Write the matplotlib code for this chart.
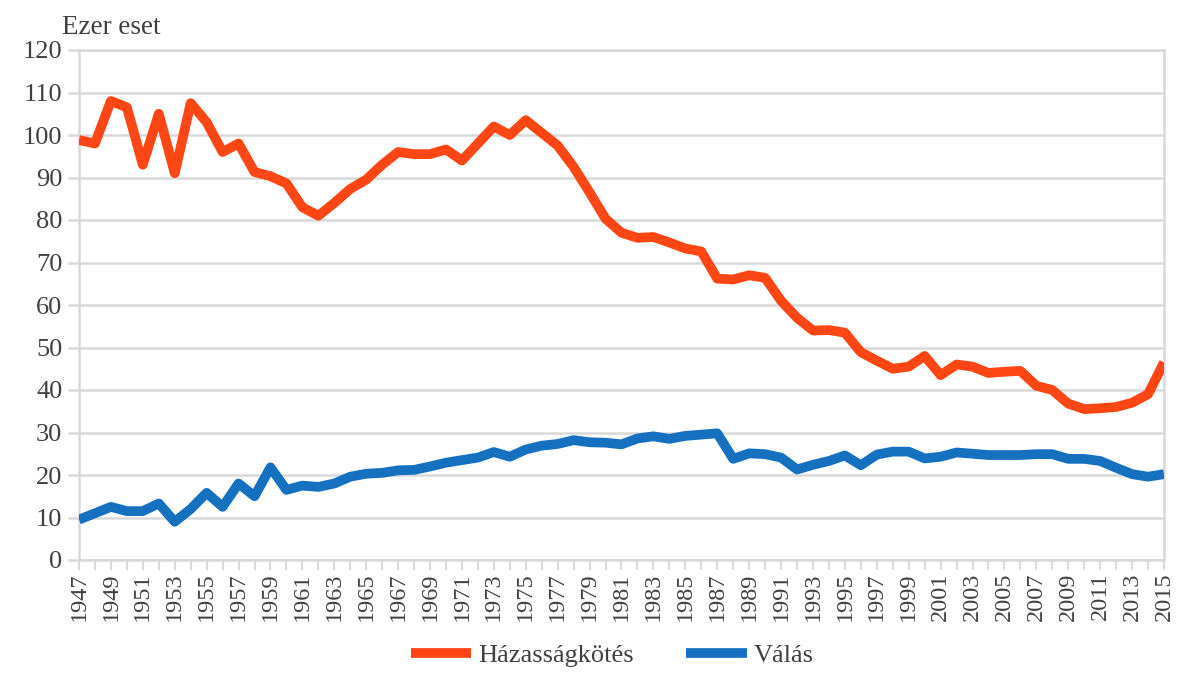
import numpy as np
import matplotlib
matplotlib.use("Agg")
import matplotlib.pyplot as plt

plt.rcParams['font.family'] = ['Liberation Serif', 'DejaVu Serif']

years = list(range(1947, 2016))

hazassag = [98.8, 98.0, 108.0, 106.5, 93.0, 105.0, 91.0, 107.5, 103.0, 96.0,
            98.0, 91.3, 90.3, 88.6, 83.0, 81.0, 84.0, 87.3, 89.5, 93.0,
            96.0, 95.5, 95.5, 96.6, 94.0, 98.0, 102.0, 100.0, 103.5, 100.5,
            97.5, 92.5, 86.5, 80.3, 77.0, 75.8, 76.0, 74.7, 73.3, 72.6,
            66.2, 66.0, 67.0, 66.4, 61.0, 57.0, 54.0, 54.1, 53.5, 48.9,
            46.9, 45.0, 45.5, 48.0, 43.5, 46.0, 45.5, 44.0, 44.3, 44.5,
            41.0, 40.0, 36.8, 35.5, 35.7, 36.0, 37.0, 39.0, 46.5]

valas = [9.5, 11.0, 12.5, 11.5, 11.5, 13.3, 9.0, 12.0, 15.8, 12.5,
         18.0, 15.0, 21.8, 16.5, 17.5, 17.2, 18.0, 19.6, 20.3, 20.5,
         21.1, 21.2, 22.0, 22.9, 23.5, 24.1, 25.4, 24.3, 26.0, 26.9,
         27.3, 28.2, 27.7, 27.6, 27.2, 28.6, 29.1, 28.5, 29.2, 29.5,
         29.8, 23.8, 25.1, 24.9, 24.1, 21.3, 22.4, 23.3, 24.6, 22.3,
         24.8, 25.5, 25.5, 23.9, 24.3, 25.3, 25.0, 24.7, 24.7, 24.7,
         24.9, 24.9, 23.8, 23.8, 23.3, 21.7, 20.2, 19.6, 20.2]

series_names = ["Házasságkötés", "Válás"]
y_ticks = list(range(0, 121, 10))

fig = plt.figure(figsize=(11.77, 6.79), dpi=100)
ax = fig.add_axes([79 / 1177, 1 - 560 / 679, (1164 - 79) / 1177, (560 - 50) / 679])

grid_c = "#d9d9d9"
ax.plot(years, hazassag, color="#FF4614", lw=7, solid_joinstyle="round",
        solid_capstyle="butt", label=series_names[0], zorder=3)
ax.plot(years, valas, color="#1570C0", lw=7, solid_joinstyle="round",
        solid_capstyle="butt", label=series_names[1], zorder=3)

ax.set_xlim(years[0], years[-1])
ax.set_ylim(0, 120)
ax.set_yticks(y_ticks)
ax.set_xticks(years[::2])
ax.set_xticks(years, minor=True)
ax.set_xticklabels([str(y) for y in years[::2]], rotation=90)

ax.grid(axis="y", color=grid_c, lw=1.8)
ax.set_axisbelow(True)
for s in ["left", "right", "bottom", "top"]:
    ax.spines[s].set_color(grid_c)
    ax.spines[s].set_linewidth(1.8)

ax.tick_params(axis="y", length=8, width=1.8, color=grid_c, labelsize=19,
               labelcolor="#404040", pad=4)
ax.tick_params(axis="x", which="both", length=7, width=1.5, color=grid_c,
               labelsize=17.5, labelcolor="#404040", pad=2)

fig.text(62 / 1177, 1 - 27 / 679, "Ezer eset", fontsize=19.5, color="#404040",
         va="center", ha="left")

fig.legend(loc="lower center", bbox_to_anchor=(0.52, -0.018), ncol=2, frameon=False,
           fontsize=19, handlelength=2.3, handletextpad=0.25, columnspacing=2.0,
           labelcolor="#404040")

fig.savefig("out.png", dpi=100)
